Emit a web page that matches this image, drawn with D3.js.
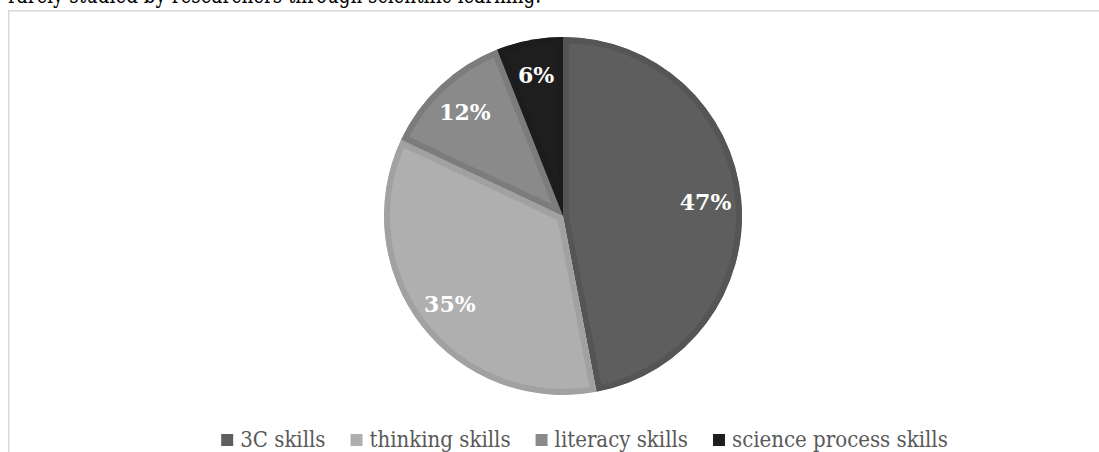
<!DOCTYPE html>
<html>
<head>
<meta charset="utf-8">
<script src="https://cdn.jsdelivr.net/npm/d3@7"></script>
<style>
  html, body { margin: 0; padding: 0; background: #fff; overflow: hidden; }
  svg { display: block; }
</style>
</head>
<body>
<svg id="chart" width="1099" height="452"></svg>
<script>
// data
const categories = ['3C skills', 'thinking skills', 'literacy skills', 'science process skills'];
const shares = [47, 35, 12, 6];
const fills = ['#5e5e5e', '#afafaf', '#8a8a8a', '#1e1e1e'];
const bands = ['#555555', '#a1a1a1', '#7c7c7c', '#1c1c1c'];
const caption = 'rarely studied by researchers through scientific learning.';

(function () {
  const width = 1099, height = 452;
  const svg = d3.select('#chart');

  // running text of the page above the chart, cut off at the top
  svg.append('text')
    .attr('x', 8)
    .attr('y', 3)
    .attr('textLength', 533)
    .attr('lengthAdjust', 'spacingAndGlyphs')
    .style('font-family', '"DejaVu Serif", "Liberation Serif", serif')
    .style('font-size', '25px')
    .style('fill', '#000')
    .text(caption);

  // chart frame (left and top edge visible)
  svg.append('path')
    .attr('d', `M8.75,${height} V10.75 H${width}`)
    .style('fill', 'none')
    .style('stroke', '#d9d9d9')
    .style('stroke-width', 1.5);

  const cx = 563, cy = 216, r = 179;
  const g = svg.append('g').attr('transform', `translate(${cx},${cy})`);

  const pie = d3.pie().sort(null).value(d => d);
  const arcs = pie(shares);
  const arc = d3.arc().innerRadius(0).outerRadius(r);
  const labelArc = d3.arc().innerRadius(r * 0.8).outerRadius(r * 0.8);

  const defs = svg.append('defs');
  arcs.forEach((a, i) => {
    defs.append('clipPath').attr('id', 'clip' + i)
      .append('path').attr('d', arc(a));
  });

  // each slice with an inner band of a slightly darker shade
  g.selectAll('path.slice').data(arcs).enter().append('path')
    .attr('class', 'slice')
    .attr('d', arc)
    .attr('clip-path', (d, i) => `url(#clip${i})`)
    .style('fill', (d, i) => fills[i])
    .style('stroke', (d, i) => bands[i])
    .style('stroke-width', 12)
    .style('stroke-linejoin', 'miter');

  g.selectAll('text.pct').data(arcs).enter().append('text')
    .attr('class', 'pct')
    .attr('transform', d => `translate(${labelArc.centroid(d)})`)
    .attr('text-anchor', 'middle')
    .attr('dy', '0.36em')
    .style('font-family', '"DejaVu Serif", "Liberation Serif", serif')
    .style('font-weight', 'bold')
    .style('font-size', '22px')
    .style('fill', '#fff')
    .text(d => d.data + '%');

  // legend, centred under the pie
  const legend = svg.append('g');
  const items = legend.selectAll('g').data(categories).enter().append('g');
  items.append('rect')
    .attr('y', 434)
    .attr('width', 12)
    .attr('height', 12)
    .style('fill', (d, i) => fills[i]);
  items.append('text')
    .attr('x', 19)
    .attr('y', 447)
    .style('font-family', '"DejaVu Serif Condensed", "Liberation Serif", serif')
    .style('font-stretch', 'condensed')
    .style('font-size', '22px')
    .style('fill', '#595959')
    .text(d => d);

  let x = 0;
  items.each(function () {
    const w = this.querySelector('text').getComputedTextLength();
    d3.select(this).attr('transform', `translate(${x},0)`);
    x += 19 + w + 25;
  });
  const total = x - 25;
  legend.attr('transform', `translate(${584.5 - total / 2},0)`);
})();
</script>
</body>
</html>
